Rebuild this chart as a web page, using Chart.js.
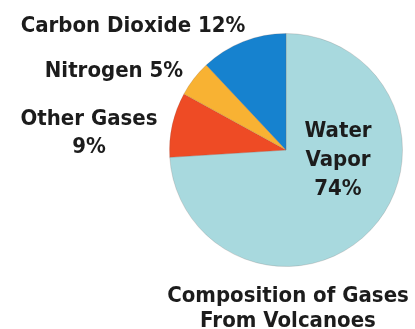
<!DOCTYPE html>
<html>
<head>
    <meta charset="utf-8">
    <script src="https://cdn.jsdelivr.net/npm/chart.js@4.4.0/dist/chart.umd.min.js"></script>
    <style>
        html, body { margin: 0; padding: 0; background: #fff; }
        #wrap { width: 415px; height: 329px; }
    </style>
</head>
<body>
    <div id="wrap"><canvas id="gasPie"></canvas></div>
    <script>
        // data, clockwise from 12 o'clock
        const gasNames = ['Water Vapor', 'Other Gases', 'Nitrogen', 'Carbon Dioxide'];
        const gasShares = [74, 9, 5, 12];
        const gasColors = ['#a8d9de', '#ee4b25', '#f8b233', '#1682cf'];
        const chartTitle = ['Composition of Gases', 'From Volcanoes'];

        // where each label sits (centre x, baseline y of each line)
        const labelSpots = [
            { lines: ['Water', 'Vapor', gasShares[0] + '%'], x: 338, y: [137, 166, 195] },
            { lines: ['Other Gases', gasShares[1] + '%'], x: 89, y: [125, 153] },
            { lines: ['Nitrogen ' + gasShares[2] + '%'], x: 114, y: [77] },
            { lines: ['Carbon Dioxide ' + gasShares[3] + '%'], x: 133, y: [32] },
            { lines: chartTitle, x: 288, y: [302, 327] }
        ];

        // the printed font is tall and a bit narrow, so squeeze DejaVu a little
        const squeeze = 0.9;

        const textPlugin = {
            id: 'gasText',
            afterDraw(chart) {
                const c = chart.ctx;
                c.save();
                c.fillStyle = '#1c1c1c';
                c.textAlign = 'center';
                c.textBaseline = 'alphabetic';
                c.font = 'bold 22px "DejaVu Sans"';
                c.scale(squeeze, 1);
                labelSpots.forEach(s => {
                    s.lines.forEach((t, i) => c.fillText(t, s.x / squeeze, s.y[i]));
                });
                c.restore();
            }
        };

        new Chart(document.getElementById('gasPie'), {
            type: 'pie',
            data: {
                labels: gasNames,
                datasets: [{
                    data: gasShares,
                    backgroundColor: gasColors,
                    borderColor: 'rgba(110,80,70,0.18)',
                    borderWidth: 1
                }]
            },
            options: {
                responsive: true,
                maintainAspectRatio: false,
                animation: false,
                layout: { padding: { left: 169, right: 12, top: 33, bottom: 62 } },
                plugins: {
                    legend: { display: false },
                    tooltip: { enabled: false }
                }
            },
            plugins: [textPlugin]
        });
    </script>
</body>
</html>
